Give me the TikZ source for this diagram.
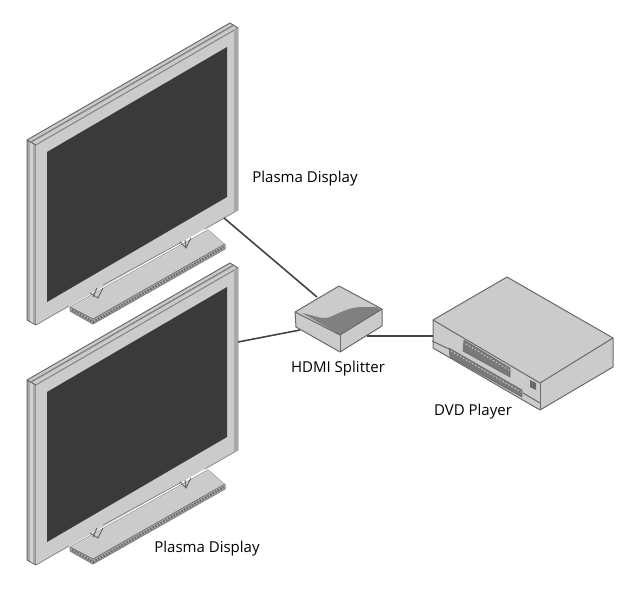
\documentclass[tikz,border=0pt]{standalone}
\usepackage{xcolor}
\usepackage{fontspec}
\setmainfont{Open Sans}
\definecolor{bezel}{HTML}{CBCBCB}
\definecolor{bezelside}{HTML}{A9A9A9}
\definecolor{panel}{HTML}{3A3A3A}
\definecolor{edge}{HTML}{6A6A6A}
\definecolor{wire}{HTML}{444444}
\tikzset{
  outline/.style={draw=edge,line width=1pt,line join=round},
  wireline/.style={draw=wire,line width=1.6pt},
  teeth/.style={draw=edge,line width=2.4pt,dash pattern=on 1.6pt off 1.4pt},
  caption/.style={font=\fontsize{15}{17}\selectfont,text=black,inner sep=0pt}
}
\begin{document}
\begin{tikzpicture}[x=1pt,y=-1pt]
\useasboundingbox (0,0) rectangle (640,594);
% the two plasma displays
\foreach \dy/\name in {240/B,0/A} {
\begin{scope}[shift={(0,\dy)}]
\filldraw[outline,fill=bezelside,draw=edge!80] (70,307) -- (70,311) -- (93,324) -- (225,249) -- (225,245) -- (208,230) -- cycle;
\fill[bezel] (70,307) -- (93,319) -- (225,245) -- (208,230) -- cycle;
\draw[teeth] (72,310) -- (93,322) -- (224,247);
\draw[edge,line width=0.7pt] (70,307) -- (93,319) -- (225,244);
\filldraw[outline,fill=bezelside] (27,140) -- (36,145) -- (36,325) -- (27,320) -- cycle;
\fill[bezel!90] (30,142) -- (33,144) -- (33,323) -- (30,321) -- cycle;
\filldraw[outline,fill=bezel] (27,140) -- (230,23) -- (238,28) -- (36,145) -- cycle;
\draw[bezelside!80!black,line width=1.5pt] (31,142) -- (234,25);
\fill[bezel] (36,145) -- (238,28) -- (238,210) -- (36,325) -- cycle;
\draw[edge!80,line width=0.8pt] (36,145) -- (238,28) -- (238,210) (36,325) -- (69,306);
\draw[edge!80,line width=0.8pt] (205,229) -- (238,210);
\fill[bezelside] (234,30) -- (238,28) -- (238,210) -- (234,212) -- cycle;
\fill[panel] (47,152) -- (227,47) -- (227,197) -- (47,302) -- cycle;
\draw[edge,line width=0.5pt] (103,285) -- (182,242);
% neck of the stand
\draw[edge,line width=1pt] (90,293) -- (98,298) -- (103,288) (97,288) -- (93,297);
\draw[edge,line width=1pt] (180,242) -- (186,248) -- (191,238) (185,240) -- (186,248);
\coordinate (port\name) at (224,218);
\end{scope}
}
\coordinate (portB) at (238,342);
% the splitter
\filldraw[outline,fill=bezel] (339,286) -- (382,309) -- (382,326) -- (340,352) -- (296,327) -- (295,312) -- cycle;
\fill[edge!85] (302,313) .. controls (313,315) and (322,320) .. (330,317) .. controls (340,313) and (347,308) .. (360,307) -- (377,307) -- (381,310) -- (340,335) -- cycle;
\draw[outline] (295,312) -- (340,335) -- (382,309);
\draw[outline] (340,335) -- (340,352);
\coordinate (inA) at (317,297);
\coordinate (inB) at (300,330);
\coordinate (outA) at (367,336);
% the dvd player
\filldraw[outline,fill=bezel] (507,277) -- (613,338) -- (613,367) -- (540,410) -- (433,348) -- (433,320) -- cycle;
\draw[outline] (433,320) -- (540,383) -- (613,338);
\draw[outline] (540,383) -- (540,410);
\draw[outline] (432,341) -- (449,349) (523,393) -- (540,403);
\filldraw[outline,fill=edge!90,line width=0.6pt] (464,340) -- (510,368) -- (510,377) -- (463,351) -- cycle;
\filldraw[outline,fill=edge!90,line width=0.6pt] (449,348) -- (522,390) -- (522,397) -- (450,357) -- cycle;
\draw[bezel,line width=1pt,dash pattern=on 1.5pt off 2pt] (466,344) -- (509,370);
\draw[bezel,line width=1pt,dash pattern=on 1.5pt off 2pt] (451,351) -- (521,392);
\fill[edge] (530,380) -- (536,383) -- (536,390) -- (530,387) -- cycle;
\coordinate (inDVD) at (433,336);
% connectors
\draw[wireline] (portA) -- (inA);
\draw[wireline] (portB) -- (inB);
\draw[wireline] (outA) -- (inDVD);
% labels
\node[caption] (plasmaA) at (305,178.5) {Plasma Display};
\node[caption] (plasmaB) at (207,548.5) {Plasma Display};
\node[caption] (splitter) at (338,368.5) {HDMI Splitter};
\node[caption] (dvd) at (473,411.5) {DVD Player};
\end{tikzpicture}
\end{document}
